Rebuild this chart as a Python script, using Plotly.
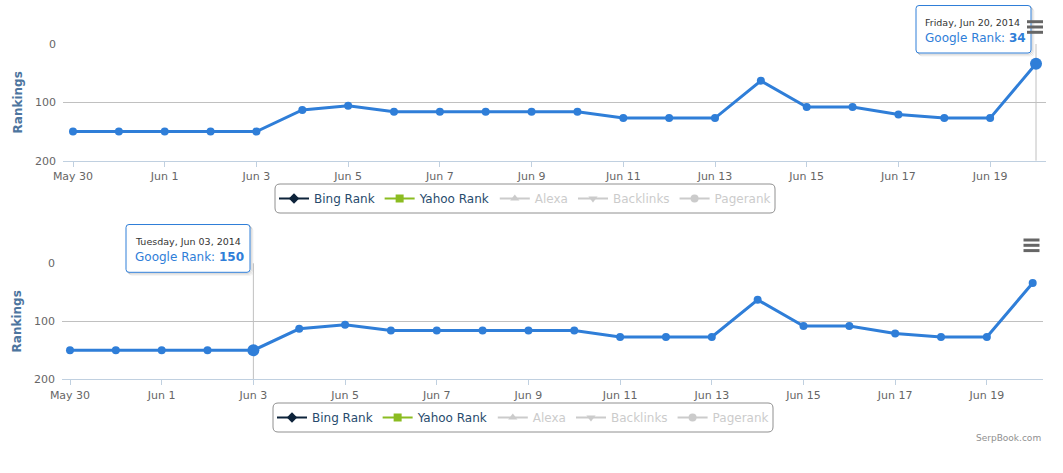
import plotly.graph_objects as go
from datetime import datetime, timedelta

W, H = 1063, 473

# google rank per day (lower = better)
dates = ["2014-05-30", "2014-05-31", "2014-06-01", "2014-06-02", "2014-06-03",
         "2014-06-04", "2014-06-05", "2014-06-06", "2014-06-07", "2014-06-08",
         "2014-06-09", "2014-06-10", "2014-06-11", "2014-06-12", "2014-06-13",
         "2014-06-14", "2014-06-15", "2014-06-16", "2014-06-17", "2014-06-18",
         "2014-06-19", "2014-06-20"]
google_rank = [150, 150, 150, 150, 150, 113, 106, 116, 116, 116, 116,
               116, 127, 127, 127, 63, 108, 108, 121, 127, 127, 34]

tick_dates = ["2014-05-30", "2014-06-01", "2014-06-03", "2014-06-05", "2014-06-07",
              "2014-06-09", "2014-06-11", "2014-06-13", "2014-06-15", "2014-06-17",
              "2014-06-19"]
tick_labels = ["May 30", "Jun 1", "Jun 3", "Jun 5", "Jun 7", "Jun 9",
               "Jun 11", "Jun 13", "Jun 15", "Jun 17", "Jun 19"]
y_ticks = [0, 100, 200]

legend_names = ["Bing Rank", "Yahoo Rank", "Alexa", "Backlinks", "Pagerank"]
legend_colors = ["#0d233a", "#8bbc21", "#999999", "#999999", "#999999"]
legend_symbols = ["diamond", "square", "triangle-up", "triangle-down", "circle"]
legend_hidden = [False, False, True, True, True]

hover_idx = [21, 4]  # point shown in the tooltip for top / bottom chart

BLUE = "#2f7ed8"
FONT = "DejaVu Sans"


def px(x):
    return x / W


def py(y):
    return 1 - y / H


def rounded_box(x0, y0, x1, y1, r):
    # pixel box -> paper path with rounded corners
    pts = [
        f"M{px(x0 + r)},{py(y0)}", f"L{px(x1 - r)},{py(y0)}",
        f"Q{px(x1)},{py(y0)} {px(x1)},{py(y0 + r)}", f"L{px(x1)},{py(y1 - r)}",
        f"Q{px(x1)},{py(y1)} {px(x1 - r)},{py(y1)}", f"L{px(x0 + r)},{py(y1)}",
        f"Q{px(x0)},{py(y1)} {px(x0)},{py(y1 - r)}", f"L{px(x0)},{py(y0 + r)}",
        f"Q{px(x0)},{py(y0)} {px(x0 + r)},{py(y0)}", "Z",
    ]
    return " ".join(pts)


# panel geometry in pixels
panels = [
    dict(x0=63, x1=1046, y0=44, y1=160.7, first=73, last=1036,
         legend=(525, 198.5), tip=(916, 5.5, 1031, 53), menu=(1027, 21.7)),
    dict(x0=62, x1=1043, y0=263.3, y1=379.3, first=70, last=1032.7,
         legend=(523, 417.5), tip=(126, 224.5, 250, 272.3), menu=(1023.5, 240)),
]
LEG_W, LEG_H = 500, 29

fig = go.Figure()
shapes = []
annotations = []

d0 = datetime.strptime(dates[0], "%Y-%m-%d")
d1 = datetime.strptime(dates[-1], "%Y-%m-%d")
span_s = (d1 - d0).total_seconds()

for i, p in enumerate(panels):
    n = "" if i == 0 else str(i + 1)
    xa, ya = "x" + n, "y" + n
    leg = "legend" + n

    scale = span_s / (p["last"] - p["first"])
    r0 = d0 - timedelta(seconds=(p["first"] - p["x0"]) * scale)
    r1 = d1 + timedelta(seconds=(p["x1"] - p["last"]) * scale)

    fig.add_trace(go.Scatter(
        x=dates, y=google_rank, name="Google Rank", mode="lines+markers",
        line=dict(color=BLUE, width=3), marker=dict(color=BLUE, size=8),
        showlegend=False, xaxis=xa, yaxis=ya, hoverinfo="skip"))

    k = hover_idx[i]
    fig.add_trace(go.Scatter(
        x=[dates[k]], y=[google_rank[k]], mode="markers",
        marker=dict(color=BLUE, size=12), showlegend=False,
        xaxis=xa, yaxis=ya, hoverinfo="skip"))

    for name, col, sym, hid in zip(legend_names, legend_colors, legend_symbols, legend_hidden):
        label = f"<span style='color:#999999'>{name}</span>" if hid else name
        fig.add_trace(go.Scatter(
            x=[None], y=[None], name=label, mode="lines+markers",
            line=dict(color=col, width=2), marker=dict(color=col, symbol=sym, size=8),
            visible="legendonly" if hid else True, legend=leg,
            xaxis=xa, yaxis=ya))

    fig.update_layout({
        "xaxis" + n: dict(
            domain=[px(p["x0"]), px(p["x1"])], anchor=ya, range=[r0, r1],
            tickvals=tick_dates, ticktext=tick_labels, showgrid=False,
            showline=True, linecolor="#C0D0E0", linewidth=1,
            ticks="outside", ticklen=5, tickcolor="#C0D0E0", automargin=False,
            tickfont=dict(family=FONT, size=11, color="#666666"), zeroline=False),
        "yaxis" + n: dict(
            domain=[py(p["y1"]), py(p["y0"])], anchor=xa, range=[200, 0],
            tickvals=y_ticks, showgrid=True, gridcolor="#C0C0C0", gridwidth=1,
            zeroline=False, showline=False, ticklabelstandoff=6, automargin=False,
            tickfont=dict(family=FONT, size=11, color="#666666"),
            title=dict(text="<b>Rankings</b>", standoff=9,
                       font=dict(family=FONT, size=12, color="#4d759e"))),
        leg: dict(
            orientation="h", x=px(p["legend"][0]), y=py(p["legend"][1]),
            xanchor="center", yanchor="middle",
            bgcolor="rgba(0,0,0,0)", borderwidth=0, itemwidth=30,
            font=dict(family=FONT, size=12, color="#274b6d")),
    })

    # rounded legend frame
    cx, cy = p["legend"]
    shapes.append(dict(type="path", xref="paper", yref="paper",
                       path=rounded_box(cx - LEG_W / 2, cy - LEG_H / 2, cx + LEG_W / 2, cy + LEG_H / 2, 5),
                       line=dict(color="#909090", width=1), fillcolor="rgba(0,0,0,0)", layer="below"))

    # crosshair at the hovered point
    shapes.append(dict(type="line", xref=xa, yref=ya + " domain", x0=dates[k], x1=dates[k], y0=0, y1=1,
                       line=dict(color="#C0C0C0", width=1), layer="below"))

    # tooltip box with a soft shadow
    tx0, ty0, tx1, ty1 = p["tip"]
    for off, alpha in [(3, 0.05), (2, 0.1), (1, 0.15)]:
        shapes.append(dict(type="path", xref="paper", yref="paper",
                           path=rounded_box(tx0 + off, ty0 + off, tx1 + off, ty1 + off, 3),
                           line=dict(color=f"rgba(0,0,0,{alpha})", width=1), fillcolor="rgba(0,0,0,0)"))
    shapes.append(dict(type="path", xref="paper", yref="paper", path=rounded_box(tx0, ty0, tx1, ty1, 3),
                       line=dict(color=BLUE, width=1), fillcolor="rgba(255,255,255,0.95)"))
    day = datetime.strptime(dates[k], "%Y-%m-%d").strftime("%A, %b %d, %Y")
    annotations.append(dict(xref="paper", yref="paper", x=px(tx0 + 7), y=py(ty0 + 17),
                            xanchor="left", yanchor="middle", showarrow=False, text=day,
                            font=dict(family=FONT, size=9.5, color="#333333")))
    annotations.append(dict(xref="paper", yref="paper", x=px(tx0 + 7), y=py(ty0 + 32.5),
                            xanchor="left", yanchor="middle", showarrow=False,
                            text=f"Google Rank: <b>{google_rank[k]}</b>",
                            font=dict(family=FONT, size=12, color=BLUE)))

    # context menu icon
    mx, my = p["menu"]
    for j in range(3):
        shapes.append(dict(type="line", xref="paper", yref="paper",
                           x0=px(mx), x1=px(mx + 16), y0=py(my + j * 5.3), y1=py(my + j * 5.3),
                           line=dict(color="#666666", width=3)))

annotations.append(dict(xref="paper", yref="paper", x=px(1043), y=py(437.7), xanchor="right",
                        yanchor="middle", showarrow=False, text="SerpBook.com",
                        font=dict(family=FONT, size=9, color="#909090")))

fig.update_layout(
    width=W, height=H, margin=dict(l=0, r=0, t=0, b=0),
    paper_bgcolor="white", plot_bgcolor="white",
    shapes=shapes, annotations=annotations, hovermode=False,
    font=dict(family=FONT),
)

# page body has a default 8px margin, drop it so the chart fills the window
fig.write_html("out.html", config={"displayModeBar": False},
               post_script="document.body.style.margin='0';")
